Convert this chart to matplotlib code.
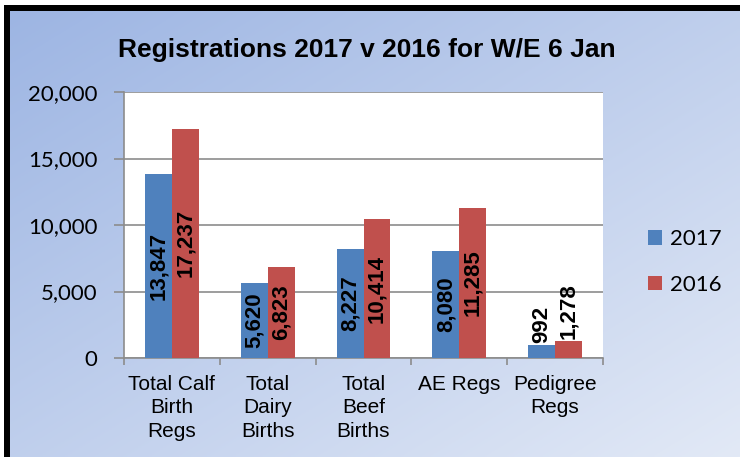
import matplotlib
matplotlib.use("Agg")
import matplotlib.pyplot as plt
import numpy as np
from matplotlib.ticker import FuncFormatter, FixedLocator
from matplotlib.patches import Rectangle

categories = ["Total Calf\nBirth\nRegs", "Total\nDairy\nBirths", "Total\nBeef\nBirths",
              "AE Regs", "Pedigree\nRegs"]
regs_2017 = [13847, 5620, 8227, 8080, 992]
regs_2016 = [17237, 6823, 10414, 11285, 1278]
series_names = ["2017", "2016"]

W, H = 740, 457
fig = plt.figure(figsize=(W / 100, H / 100), dpi=100)

# diagonal gradient background
bg = fig.add_axes([0, 0, 1, 1], zorder=-10)
gx, gy = np.meshgrid(np.linspace(0, 1, 200), np.linspace(0, 1, 200))
t = (gx + gy) / 2
c0 = np.array([157, 181, 227]) / 255
c1 = np.array([226, 233, 246]) / 255
img = c0[None, None, :] + t[:, :, None] * (c1 - c0)[None, None, :]
bg.add_patch(Rectangle((0, 0), 1, 1, facecolor="white", zorder=0.5))
bg.imshow(img, extent=[10 / W, 1, 0, 1 - 11 / H], origin="upper", aspect="auto", zorder=0.6)
bg.set_xlim(0, 1)
bg.set_ylim(0, 1)
bg.axis("off")
# black frame on left and top
bg.add_patch(Rectangle((4 / W, 0), 6 / W, 1 - 5 / H, facecolor="black", edgecolor="none", zorder=1))
bg.add_patch(Rectangle((4 / W, 1 - 11 / H), 1, 6 / H, facecolor="black", edgecolor="none", zorder=1))

ax = fig.add_axes([124 / W, (H - 358) / H, (603 - 124) / W, (358 - 92) / H])
ax.set_facecolor("white")

x = np.arange(len(categories))
bw = 0.28
b1 = ax.bar(x - bw / 2, regs_2017, bw, color="#4F81BD", label=series_names[0], zorder=3)
b2 = ax.bar(x + bw / 2, regs_2016, bw, color="#C0504D", label=series_names[1], zorder=3)

for bars, vals in ((b1, regs_2017), (b2, regs_2016)):
    for rect, v in zip(bars, vals):
        cx = rect.get_x() + rect.get_width() / 2
        if v > 3000:
            ax.text(cx, v / 2, f"{v:,}", rotation=90, ha="center", va="center",
                    fontsize=16, fontweight="bold", family="Liberation Sans", zorder=4)
        else:
            ax.text(cx, v + 150, f"{v:,}", rotation=90, ha="center", va="bottom",
                    fontsize=16, fontweight="bold", family="Liberation Sans", zorder=4)

ax.set_xlim(-0.5, len(categories) - 0.5)
ax.set_ylim(0, 20000)
ax.set_yticks([0, 5000, 10000, 15000, 20000])
ax.yaxis.set_major_formatter(FuncFormatter(lambda v, p: f"{int(v):,}"))
ax.grid(axis="y", color="#8C8C8C", linewidth=1.2, zorder=1)

ax.set_xticks(x)
ax.set_xticklabels(categories, fontsize=15, family="Liberation Sans", linespacing=1.3)
ax.xaxis.set_minor_locator(FixedLocator(np.arange(-0.5, len(categories), 1.0)))
ax.tick_params(axis="x", which="major", length=0, pad=12)
ax.tick_params(axis="x", which="minor", length=5, width=1.2, color="#8C8C8C")
ax.tick_params(axis="y", length=7, width=1.2, color="#8C8C8C", pad=12, labelsize=16)
for lab in ax.get_yticklabels():
    lab.set_family("Lato")

for s in ("top", "right"):
    ax.spines[s].set_visible(False)
for s in ("left", "bottom"):
    ax.spines[s].set_color("#8C8C8C")
    ax.spines[s].set_linewidth(1.2)

fig.text(367 / W, 1 - 50 / H, "Registrations 2017 v 2016 for W/E 6 Jan",
         ha="center", va="center", fontsize=19, fontweight="bold", family="Liberation Sans")

leg = fig.legend(handles=[b1, b2], labels=series_names, loc="center left",
                 bbox_to_anchor=(628 / W, 1 - 262 / H), frameon=False,
                 prop={"family": "Lato", "size": 16}, handlelength=0.65, handleheight=0.65,
                 handletextpad=0.35, labelspacing=1.15)

fig.savefig("out.png", dpi=100)
